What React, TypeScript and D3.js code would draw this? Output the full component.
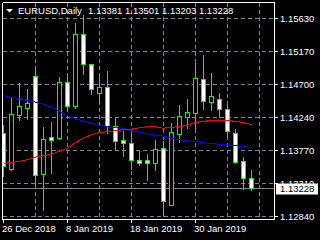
import React from "react";
import * as d3 from "d3";

const symbolTitle = "EURUSD,Daily";
const lastOHLC = "1.13381 1.13501 1.13203 1.13228";

const dates = [
  "2018-12-26", "2018-12-27", "2018-12-28", "2018-12-31", "2019-01-02", "2019-01-03",
  "2019-01-04", "2019-01-07", "2019-01-08", "2019-01-09", "2019-01-10", "2019-01-11",
  "2019-01-14", "2019-01-15", "2019-01-16", "2019-01-17", "2019-01-18", "2019-01-21",
  "2019-01-22", "2019-01-23", "2019-01-24", "2019-01-25", "2019-01-28", "2019-01-29",
  "2019-01-30", "2019-01-31", "2019-02-01", "2019-02-04", "2019-02-05", "2019-02-06",
  "2019-02-07", "2019-02-08",
];

const opens = [
  1.1401, 1.13502, 1.14263, 1.14356, 1.14807, 1.13432, 1.13948, 1.13939, 1.14723, 1.14384,
  1.15405, 1.14982, 1.14573, 1.14658, 1.14112, 1.13911, 1.13869, 1.13629, 1.13624, 1.13587,
  1.13793, 1.12995, 1.13995, 1.14235, 1.14291, 1.1477, 1.14441, 1.14489, 1.14348, 1.1401,
  1.13615, 1.13381,
];
const highs = [
  1.14141, 1.14535, 1.14723, 1.14648, 1.14958, 1.14103, 1.14183, 1.14817, 1.14835, 1.15568,
  1.15691, 1.15, 1.14835, 1.14892, 1.14235, 1.14056, 1.14028, 1.13764, 1.13728, 1.13925,
  1.13915, 1.14159, 1.14422, 1.14497, 1.15004, 1.15127, 1.14873, 1.14592, 1.14413, 1.14084,
  1.1368, 1.13501,
];
const lows = [
  1.13408, 1.1349, 1.14197, 1.14207, 1.13257, 1.12919, 1.13446, 1.13929, 1.14338, 1.14356,
  1.14835, 1.14563, 1.14441, 1.1401, 1.13764, 1.1368, 1.13507, 1.13553, 1.13342, 1.13492,
  1.12872, 1.1299, 1.13877, 1.1408, 1.14056, 1.14348, 1.14328, 1.14235, 1.13962, 1.1359,
  1.1322, 1.13203,
];
const closes = [
  1.13539, 1.14277, 1.14394, 1.14432, 1.13422, 1.13925, 1.13911, 1.14732, 1.14394, 1.15405,
  1.14986, 1.1463, 1.14658, 1.14103, 1.13901, 1.13863, 1.13624, 1.13587, 1.13587, 1.13784,
  1.13051, 1.14018, 1.14253, 1.14305, 1.14789, 1.1446, 1.14535, 1.14348, 1.14038, 1.13595,
  1.1337, 1.13228,
];

const maBlue = [
  1.14542, 1.14521, 1.145, 1.14479, 1.14451, 1.14422, 1.1438, 1.14324, 1.1426, 1.14218,
  1.14183, 1.14155, 1.14127, 1.14105, 1.14091, 1.14077, 1.14049, 1.14028, 1.14007, 1.13986,
  1.13972, 1.13943, 1.13922, 1.13908, 1.13894, 1.1388, 1.13866, 1.13859, 1.13852, 1.13838,
  1.13824, 1.13809,
];
const maRed = [
  1.13591, 1.13598, 1.13619, 1.1364, 1.13676, 1.13697, 1.13718, 1.1376, 1.13802, 1.1388,
  1.13943, 1.13993, 1.14021, 1.14035, 1.14049, 1.14063, 1.1407, 1.14091, 1.14105, 1.14105,
  1.14084, 1.14098, 1.14105, 1.14127, 1.14162, 1.14183, 1.1419, 1.1419, 1.1419, 1.14183,
  1.14162, 1.14134,
];

const priceTicks = [1.1563, 1.1517, 1.147, 1.1424, 1.1377, 1.1331, 1.1284];
const currentPrice = 1.13228;

const FONT = "'Liberation Sans', Arial, sans-serif";
const GRID = "#778899";
const CANDLE = "#00ff00";

export default function App() {
  const n = dates.length;
  const x = d3.scaleLinear().domain([0, n - 1]).range([3, 3 + 8 * (n - 1)]);
  const y = d3.scaleLinear().domain([1.1284, 1.1563]).range([216.5, 18.5]);
  const py = (v: number) => Math.floor(y(v) + 1e-6) + 0.5;
  const parse = d3.timeParse("%Y-%m-%d");
  const fmt = d3.timeFormat("%-d %b %Y");

  const left = 2.5, right = 274.5, top = 2.5, bottom = 219.5;

  const line = d3
    .line<number>()
    .x((_, i) => x(i) + 0.5)
    .y((d) => y(d));

  const vGridIdx = d3.range(4, n + 1, 4);
  const labelIdx = d3.range(0, n, 8);
  const fmtPrice = (v: number) => v.toFixed(5);

  return (
    <svg
      width={320}
      height={240}
      style={{ position: "fixed", left: 0, top: 0, background: "#000" }}
      fontFamily={FONT}
    >
      <rect x={0} y={0} width={320} height={240} fill="#000" />
      <defs>
        <clipPath id="plot">
          <rect x={3} y={3} width={271} height={216} />
        </clipPath>
      </defs>

      {/* grid */}
      <g stroke={GRID} strokeWidth={1} strokeDasharray="4,3" shapeRendering="crispEdges">
        {priceTicks.map((p) => (
          <line key={"h" + p} x1={3} x2={274} y1={py(p)} y2={py(p)} />
        ))}
        {vGridIdx.map((i) => (
          <line key={"v" + i} x1={x(i) + 0.5} x2={x(i) + 0.5} y1={3} y2={219} />
        ))}
      </g>

      {/* current price line */}
      <line
        x1={3}
        x2={274}
        y1={py(currentPrice)}
        y2={py(currentPrice)}
        stroke={GRID}
        strokeWidth={1}
        shapeRendering="crispEdges"
      />

      <g clipPath="url(#plot)" shapeRendering="crispEdges">
        {dates.map((d, i) => {
          const o = opens[i], c = closes[i];
          const bull = c >= o;
          const cx = x(i) + 0.5;
          const yt = py(Math.max(o, c));
          const yb = py(Math.min(o, c));
          return (
            <g key={d}>
              <line x1={cx} x2={cx} y1={py(highs[i])} y2={py(lows[i])} stroke={CANDLE} />
              <rect
                x={cx - 2}
                y={yt}
                width={4}
                height={Math.max(0, yb - yt)}
                fill={bull ? "#000" : "#fff"}
                stroke={CANDLE}
              />
            </g>
          );
        })}
        <path d={line(maBlue) || ""} fill="none" stroke="#0000ff" strokeWidth={1} />
        <path d={line(maRed) || ""} fill="none" stroke="#ff0000" strokeWidth={1} />
      </g>

      {/* frame */}
      <g stroke="#fff" strokeWidth={1} shapeRendering="crispEdges" fill="none">
        <line x1={left} x2={left} y1={top} y2={bottom} />
        <line x1={left} x2={right} y1={top} y2={top} />
        <line x1={right} x2={right} y1={top} y2={bottom} />
        <line x1={left} x2={right} y1={bottom} y2={bottom} />
        {priceTicks.map((p) => (
          <line key={"t" + p} x1={right} x2={278} y1={py(p)} y2={py(p)} />
        ))}
        {labelIdx.map((i) => (
          <line key={"bt" + i} x1={x(i) + 0.5} x2={x(i) + 0.5} y1={bottom} y2={223} />
        ))}
      </g>

      {/* price labels */}
      <g fill="#fff" fontSize={9.5}>
        {priceTicks.map((p) => (
          <text key={"l" + p} x={280} y={py(p) + 3.5}>
            {fmtPrice(p)}
          </text>
        ))}
      </g>
      <rect x={276} y={183.5} width={42} height={11} fill="#fff" />
      <text x={280} y={py(currentPrice) + 3.5} fill="#000" fontSize={9.5}>
        {fmtPrice(currentPrice)}
      </text>

      {/* date labels */}
      <g fill="#fff" fontSize={9.5}>
        {labelIdx.map((i) => (
          <text key={"d" + i} x={x(i) - 1} y={232}>
            {fmt(parse(dates[i]) as Date)}
          </text>
        ))}
      </g>

      {/* title */}
      <path d="M6,9 L13,9 L9.5,12.5 Z" fill="#fff" />
      <text x={18} y={14} fill="#fff" fontSize={9.5}>
        {symbolTitle}
      </text>
      <text x={88} y={14} fill="#fff" fontSize={9.5}>
        {lastOHLC}
      </text>
    </svg>
  );
}
